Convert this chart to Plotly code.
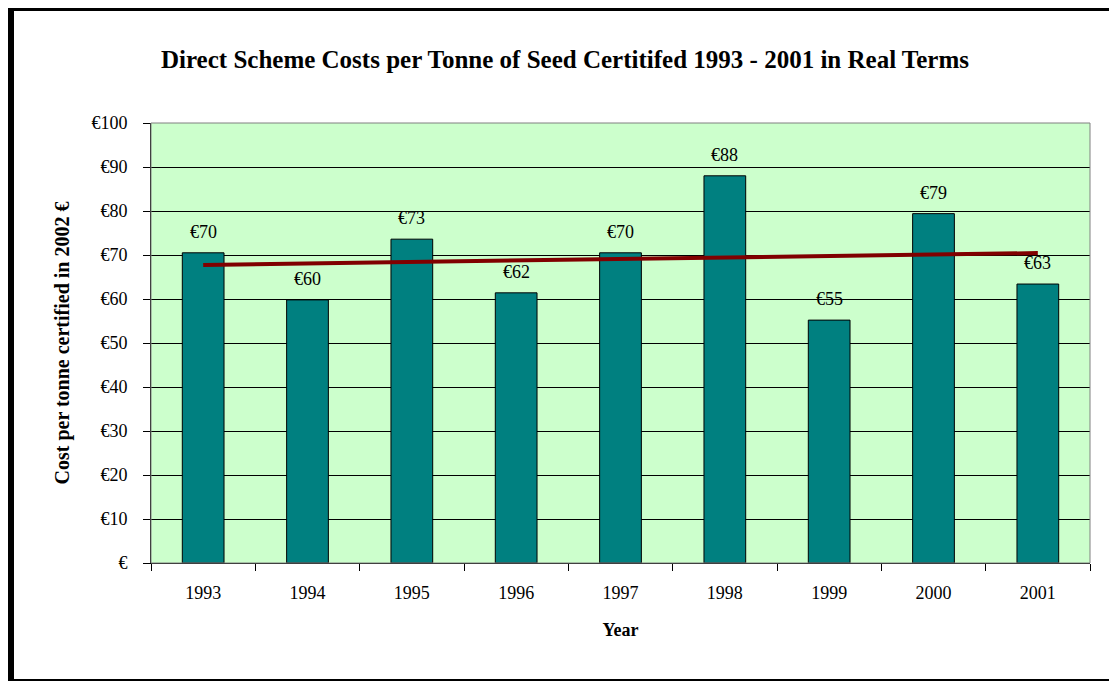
import numpy as np
import plotly.graph_objects as go

years = ["1993", "1994", "1995", "1996", "1997", "1998", "1999", "2000", "2001"]
costs = [70.5, 59.8, 73.6, 61.4, 70.5, 88.0, 55.2, 79.4, 63.4]
labels = ["€70", "€60", "€73", "€62", "€70", "€88", "€55", "€79", "€63"]
y_tick_vals = [0, 10, 20, 30, 40, 50, 60, 70, 80, 90, 100]
y_tick_text = ["€", "€10", "€20", "€30", "€40", "€50", "€60", "€70", "€80", "€90", "€100"]

# linear trend fitted to the data
xi = np.arange(len(costs))
slope, intercept = np.polyfit(xi, costs, 1)
trend = [float(slope * i + intercept) for i in xi]

OFF = 8  # page body margin
W, H = 1117 - OFF, 681 - OFF
L, R, T, B = 151 - OFF, 1090 - OFF, 123 - OFF, 563 - OFF
FONT = "Liberation Serif, Times New Roman, serif"


def px(x):
    return (x - OFF - L) / (R - L)


def py(y):
    return (B - (y - OFF)) / (B - T)


fig = go.Figure()
fig.add_trace(go.Bar(
    x=years, y=costs,
    marker=dict(color="#008080", line=dict(color="black", width=1)),
    showlegend=False, hoverinfo="x+y",
))
fig.add_trace(go.Scatter(
    x=years, y=trend, mode="lines",
    line=dict(color="#800000", width=4),
    showlegend=False, hoverinfo="skip",
))

annotations = []
for i, (v, t) in enumerate(zip(costs, labels)):
    annotations.append(dict(
        x=i, y=v, xref="x", yref="y", text=t, showarrow=False,
        yshift=21, font=dict(family=FONT, size=18, color="black"),
    ))

shapes = [
    dict(type="rect", xref="paper", yref="paper", x0=0, x1=1, y0=0, y1=1,
         line=dict(color="#808080", width=1), layer="above"),
    dict(type="rect", xref="paper", yref="paper", x0=px(8), x1=px(1117), y0=py(5), y1=py(11),
         fillcolor="black", line=dict(width=0), layer="above"),
    dict(type="rect", xref="paper", yref="paper", x0=px(8), x1=px(14), y0=py(5), y1=py(681),
         fillcolor="black", line=dict(width=0), layer="above"),
    dict(type="rect", xref="paper", yref="paper", x0=px(8), x1=px(1117), y0=py(679), y1=py(681),
         fillcolor="black", line=dict(width=0), layer="above"),
]

fig.update_layout(
    width=W, height=H,
    margin=dict(l=L, r=W - R, t=T, b=H - B, autoexpand=False),
    paper_bgcolor="white",
    plot_bgcolor="#CCFFCC",
    bargap=0.6,
    font=dict(family=FONT, size=18, color="black"),
    title=dict(
        text="<b>Direct Scheme Costs per Tonne of Seed Certitifed 1993 - 2001 in Real Terms</b>",
        x=(565 - OFF) / W, xref="container", xanchor="center",
        y=1 - (59 - OFF) / H, yref="container", yanchor="middle",
        font=dict(family=FONT, size=25, color="black"),
    ),
    xaxis=dict(
        type="category",
        range=[-0.5, len(years) - 0.5],
        showgrid=False,
        showline=True, linecolor="black", linewidth=1,
        ticks="outside", ticklen=7, tickcolor="black", tickson="boundaries",
        tickfont=dict(family=FONT, size=18),
        ticklabelstandoff=13,
        title=dict(text="<b>Year</b>", font=dict(family=FONT, size=18), standoff=21),
    ),
    yaxis=dict(
        range=[0, 100],
        tickvals=y_tick_vals, ticktext=y_tick_text,
        showgrid=True, gridcolor="black", gridwidth=1,
        showline=True, linecolor="black", linewidth=1,
        ticks="outside", ticklen=7, tickcolor="black",
        tickfont=dict(family=FONT, size=18),
        ticklabelstandoff=12,
        zeroline=False,
        title=dict(text="<b>Cost per tonne certified in 2002 €</b>",
                   font=dict(family=FONT, size=20), standoff=16),
    ),
    annotations=annotations,
    shapes=shapes,
)

fig.write_html("out.html")
